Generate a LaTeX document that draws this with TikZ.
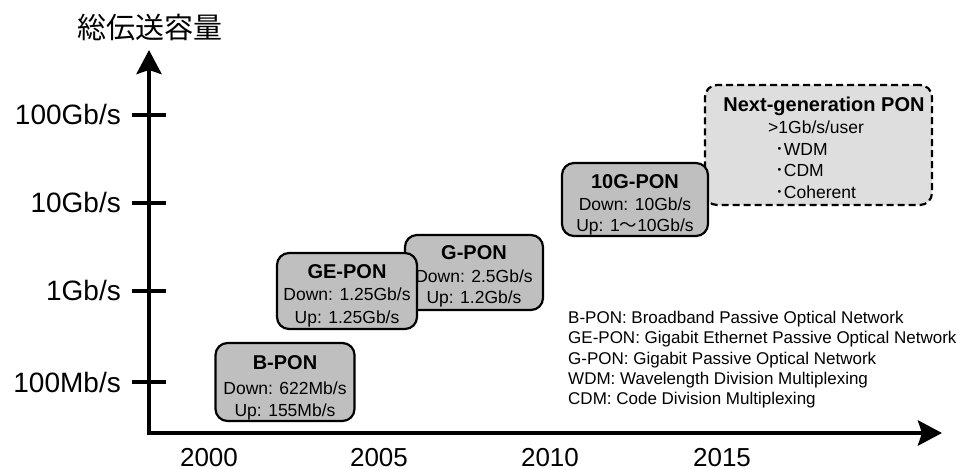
\documentclass[tikz,border=0pt]{standalone}
\usepackage{fontspec}
\setmainfont{Liberation Sans}
\newfontfamily\jpfont{Noto Sans CJK JP}
\usetikzlibrary{arrows.meta}
\definecolor{boxgray}{gray}{0.75}
\definecolor{nextgray}{gray}{0.87}
\begin{document}
\begin{tikzpicture}[x=1pt,y=-1pt,
  axis/.style={line width=4.5pt,
    {Stealth[length=24pt,width=25pt,inset=4pt]}-{Stealth[length=24pt,width=25pt,inset=4pt]}},
  tickmark/.style={line width=4.5pt},
  pbox/.style={draw=black, line width=2.2pt, rounded corners=12pt, fill=boxgray, inner sep=0pt},
  nbox/.style={pbox, dashed, dash pattern=on 7pt off 4pt, fill=nextgray},
  txt/.style={inner sep=0pt, anchor=base, font=\fontsize{17.5}{20}\selectfont},
  ttl/.style={inner sep=0pt, anchor=base, font=\bfseries\fontsize{20}{24}\selectfont},
  lst/.style={inner sep=0pt, anchor=base west, font=\fontsize{17.5}{20}\selectfont},
  leg/.style={inner sep=0pt, anchor=base west, font=\fontsize{17}{20}\selectfont},
  ylab/.style={inner sep=0pt, anchor=base east, font=\fontsize{28}{32}\selectfont},
  year/.style={inner sep=0pt, anchor=base, font=\fontsize{26}{30}\selectfont},
]
\useasboundingbox (0,0) rectangle (964,470);
\fill[white] (0,0) rectangle (964,470);

% axes
\coordinate (origin) at (149,433);
\coordinate (ytip) at (149,50);
\coordinate (xtip) at (942,433);
\draw[axis] (ytip) -- (origin) -- (xtip);
\node[inner sep=0pt, anchor=base, font=\jpfont\fontsize{29}{32}\selectfont] (ytitle) at (150,39) {総伝送容量};

% capacity ticks
\foreach \yy/\lab/\nm in {115/100Gb\slash s/t1, 203/10Gb\slash s/t2, 291/1Gb\slash s/t3, 382/100Mb\slash s/t4}{
  \draw[tickmark] (132,\yy) coordinate (\nm a) -- (166,\yy) coordinate (\nm b);
  \node[ylab] (\nm lab) at (121,\yy+10) {\lab};
}

% years
\node[year] (y2000) at (209,466) {2000};
\node[year] (y2005) at (379,466) {2005};
\node[year] (y2010) at (550,466) {2010};
\node[year] (y2015) at (722,466) {2015};

% next generation PON
\node[nbox, minimum width=227pt, minimum height=120pt] (ngpon) at (818.5,145) {};
\node[ttl] (ngt) at (824,112) {Next-generation PON};
\node[lst] (ng1) at (768,134) {>1Gb/s/user};
\node[lst] (ng2) at (775,156) {{\jpfont ･}WDM};
\node[lst] (ng3) at (775,177) {{\jpfont ･}CDM};
\node[lst] (ng4) at (775,199) {{\jpfont ･}Coherent};

% 10G-PON
\node[pbox, minimum width=146pt, minimum height=73pt] (tgpon) at (635,199.5) {};
\node[ttl] (tgt) at (635,189) {10G-PON};
\node[txt] (tgd) at (635,211) {Down: 10Gb/s};
\node[txt] (tgu) at (635,232) {Up: 1{\jpfont 〜}10Gb/s};

% G-PON
\node[pbox, minimum width=138pt, minimum height=75pt] (gpon) at (474,272.5) {};
\node[ttl] (gt) at (474,260) {G-PON};
\node[txt] (gd) at (474,283) {Down: 2.5Gb/s};
\node[txt] (gu) at (474,304) {Up: 1.2Gb/s};

% GE-PON
\node[pbox, minimum width=140pt, minimum height=76pt] (gepon) at (347,291) {};
\node[ttl] (get) at (347,279) {GE-PON};
\node[txt] (ged) at (347,301) {Down: 1.25Gb/s};
\node[txt] (geu) at (347,324) {Up: 1.25Gb/s};

% B-PON
\node[pbox, minimum width=139pt, minimum height=78pt] (bpon) at (285,382) {};
\node[ttl] (bt) at (285,370) {B-PON};
\node[txt] (bd) at (285,394) {Down: 622Mb/s};
\node[txt] (bu) at (285,416) {Up: 155Mb/s};

% abbreviations
\node[leg] (l1) at (568,324) {B-PON: Broadband Passive Optical Network};
\node[leg] (l2) at (568,344) {GE-PON: Gigabit Ethernet Passive Optical Network};
\node[leg] (l3) at (568,364) {G-PON: Gigabit Passive Optical Network};
\node[leg] (l4) at (568,384) {WDM: Wavelength Division Multiplexing};
\node[leg] (l5) at (568,404) {CDM: Code Division Multiplexing};
\end{tikzpicture}
\end{document}
